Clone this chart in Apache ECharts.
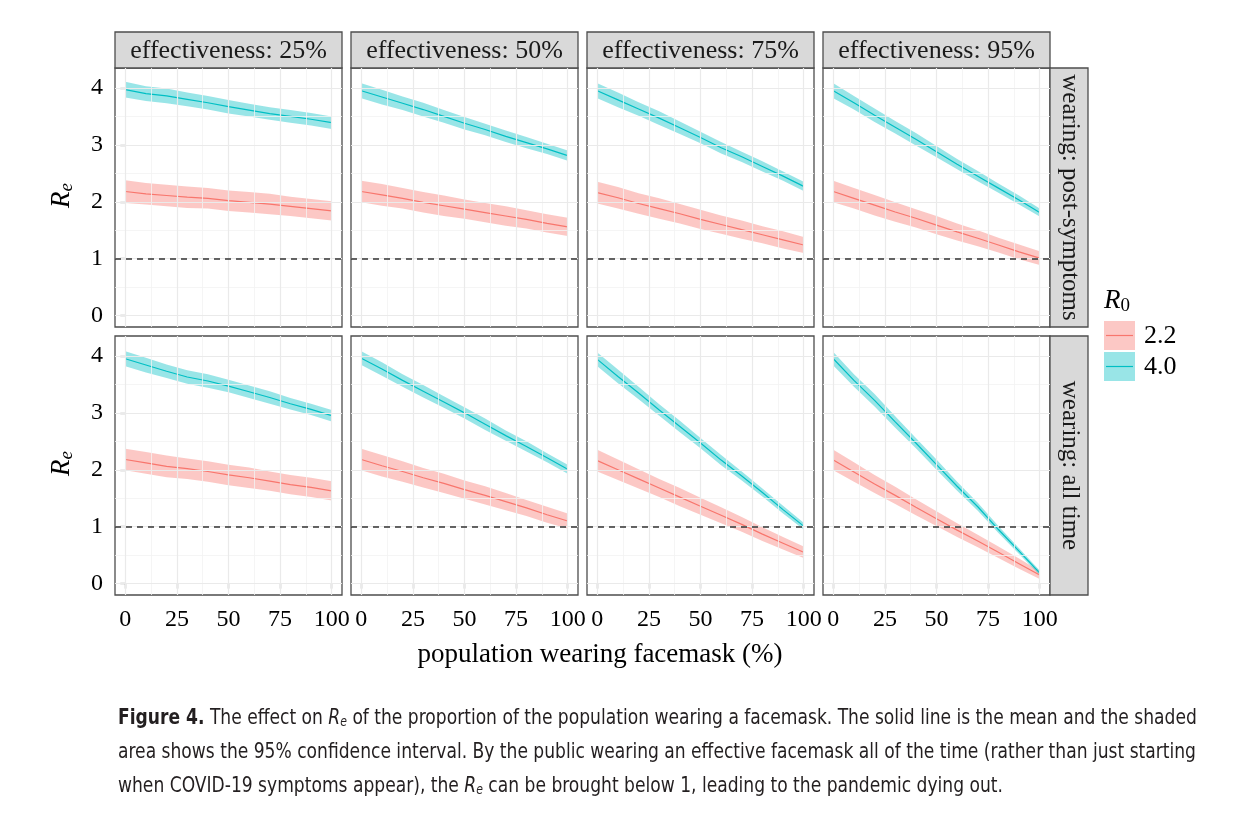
<!DOCTYPE html>
<html><head><meta charset="utf-8">
<script src="https://cdn.jsdelivr.net/npm/echarts@6/dist/echarts.min.js"></script>
<style>html,body{margin:0;padding:0;background:#fff}#c{width:1242px;height:828px}</style>
</head><body><div id="c"></div><script>
// ---------- data ----------
const pctWearing = [0, 10, 20, 30, 40, 50, 60, 70, 80, 90, 100];
const effectivenessLabels = ['effectiveness: 25%', 'effectiveness: 50%', 'effectiveness: 75%', 'effectiveness: 95%'];
const wearingLabels = ['wearing: post-symptoms', 'wearing: all time'];
const r0Labels = ['2.2', '4.0'];
const xTicks = [0, 25, 50, 75, 100];
const yTicks = [0, 1, 2, 3, 4];
const xMinor = [12.5, 37.5, 62.5, 87.5];
const yMinor = [0.5, 1.5, 2.5, 3.5];
const threshold = 1;

// wearing: post-symptoms
const post25_r22 = [2.18, 2.14, 2.11, 2.08, 2.06, 2.02, 1.99, 1.96, 1.92, 1.88, 1.84];
const post25_r22_ci = [0.20, 0.19, 0.19, 0.19, 0.18, 0.18, 0.18, 0.18, 0.17, 0.17, 0.17];
const post25_r40 = [3.97, 3.90, 3.86, 3.80, 3.74, 3.67, 3.61, 3.55, 3.50, 3.45, 3.39];
const post25_r40_ci = [0.14, 0.13, 0.13, 0.12, 0.12, 0.12, 0.11, 0.11, 0.11, 0.11, 0.11];
const post50_r22 = [2.18, 2.12, 2.06, 1.99, 1.93, 1.87, 1.81, 1.75, 1.69, 1.62, 1.56];
const post50_r22_ci = [0.19, 0.19, 0.18, 0.18, 0.18, 0.17, 0.17, 0.17, 0.16, 0.16, 0.16];
const post50_r40 = [3.95, 3.84, 3.73, 3.62, 3.50, 3.38, 3.27, 3.15, 3.04, 2.93, 2.81];
const post50_r40_ci = [0.13, 0.13, 0.12, 0.12, 0.11, 0.11, 0.10, 0.10, 0.10, 0.09, 0.09];
const post75_r22 = [2.16, 2.07, 1.97, 1.88, 1.79, 1.69, 1.60, 1.51, 1.42, 1.33, 1.24];
const post75_r22_ci = [0.19, 0.19, 0.18, 0.18, 0.17, 0.17, 0.16, 0.16, 0.15, 0.15, 0.14];
const post75_r40 = [3.95, 3.79, 3.63, 3.47, 3.30, 3.13, 2.95, 2.79, 2.62, 2.45, 2.27];
const post75_r40_ci = [0.13, 0.13, 0.12, 0.12, 0.11, 0.10, 0.10, 0.09, 0.09, 0.08, 0.08];
const post95_r22 = [2.18, 2.06, 1.94, 1.82, 1.71, 1.59, 1.47, 1.36, 1.24, 1.12, 1.01];
const post95_r22_ci = [0.19, 0.18, 0.18, 0.17, 0.16, 0.16, 0.15, 0.14, 0.13, 0.13, 0.12];
const post95_r40 = [3.95, 3.74, 3.52, 3.31, 3.10, 2.88, 2.66, 2.45, 2.24, 2.03, 1.81];
const post95_r40_ci = [0.13, 0.12, 0.12, 0.11, 0.11, 0.10, 0.09, 0.09, 0.08, 0.08, 0.07];
// wearing: all time
const all25_r22 = [2.18, 2.12, 2.06, 2.02, 1.97, 1.91, 1.86, 1.80, 1.74, 1.69, 1.63];
const all25_r22_ci = [0.19, 0.19, 0.19, 0.18, 0.18, 0.18, 0.18, 0.17, 0.17, 0.17, 0.17];
const all25_r40 = [3.95, 3.84, 3.73, 3.63, 3.56, 3.47, 3.37, 3.27, 3.16, 3.06, 2.95];
const all25_r40_ci = [0.13, 0.13, 0.12, 0.12, 0.12, 0.11, 0.11, 0.11, 0.10, 0.10, 0.10];
const all50_r22 = [2.18, 2.07, 1.97, 1.86, 1.76, 1.65, 1.55, 1.44, 1.33, 1.21, 1.10];
const all50_r22_ci = [0.19, 0.19, 0.18, 0.17, 0.17, 0.16, 0.16, 0.15, 0.14, 0.14, 0.13];
const all50_r40 = [3.96, 3.77, 3.57, 3.38, 3.19, 3.00, 2.80, 2.60, 2.41, 2.21, 2.01];
const all50_r40_ci = [0.12, 0.12, 0.11, 0.11, 0.10, 0.10, 0.10, 0.09, 0.09, 0.08, 0.08];
const all75_r22 = [2.16, 2.00, 1.84, 1.68, 1.52, 1.36, 1.20, 1.04, 0.87, 0.71, 0.55];
const all75_r22_ci = [0.19, 0.18, 0.17, 0.16, 0.16, 0.15, 0.14, 0.13, 0.12, 0.11, 0.10];
const all75_r40 = [3.94, 3.64, 3.35, 3.05, 2.76, 2.47, 2.17, 1.89, 1.60, 1.30, 1.01];
const all75_r40_ci = [0.12, 0.12, 0.11, 0.10, 0.10, 0.09, 0.09, 0.08, 0.07, 0.07, 0.06];
const all95_r22 = [2.17, 1.96, 1.75, 1.55, 1.34, 1.14, 0.94, 0.75, 0.55, 0.35, 0.15];
const all95_r22_ci = [0.18, 0.17, 0.16, 0.15, 0.14, 0.13, 0.12, 0.11, 0.10, 0.09, 0.07];
const all95_r40 = [3.95, 3.57, 3.22, 2.84, 2.47, 2.09, 1.71, 1.35, 0.95, 0.57, 0.19];
const all95_r40_ci = [0.12, 0.11, 0.11, 0.10, 0.09, 0.09, 0.08, 0.07, 0.06, 0.05, 0.04];

const panels = [
  [post25_r22, post25_r22_ci, post25_r40, post25_r40_ci],
  [post50_r22, post50_r22_ci, post50_r40, post50_r40_ci],
  [post75_r22, post75_r22_ci, post75_r40, post75_r40_ci],
  [post95_r22, post95_r22_ci, post95_r40, post95_r40_ci],
  [all25_r22, all25_r22_ci, all25_r40, all25_r40_ci],
  [all50_r22, all50_r22_ci, all50_r40, all50_r40_ci],
  [all75_r22, all75_r22_ci, all75_r40, all75_r40_ci],
  [all95_r22, all95_r22_ci, all95_r40, all95_r40_ci]
];

// ---------- layout / style ----------
const colLeft = [115, 351, 587, 823];
const rowTop = [68, 336];
const PW = 227, PH = 259;
const SERIF = '"Liberation Serif", "DejaVu Serif", serif';
const SANS = '"DejaVu Sans Condensed", "Liberation Sans", sans-serif';
const RED = '#F8766D', CYAN = '#00BFC4';
const RED_FILL = 'rgba(248,118,109,0.4)', CYAN_FILL = 'rgba(0,191,196,0.4)';
const BORDER = '#4d4d4d';

const grids = [], xAxes = [], yAxes = [], series = [];
panels.forEach((p, i) => {
  const r = Math.floor(i / 4), c = i % 4;
  grids.push({ left: colLeft[c], top: rowTop[r], width: PW, height: PH, show: true,
    borderColor: BORDER, borderWidth: 1.3, backgroundColor: '#fff', containLabel: false, outerBoundsMode: 'none' });
  xAxes.push({ gridIndex: i, type: 'value', min: -5, max: 105,
    splitLine: { show: false }, axisLine: { show: false },
    axisTick: { show: r === 1, customValues: xTicks, length: 5, lineStyle: { color: '#333', width: 1.2 } },
    axisLabel: { show: r === 1, customValues: xTicks, fontFamily: SERIF, fontSize: 24, color: '#000', margin: 13 } });
  yAxes.push({ gridIndex: i, type: 'value', min: -0.2, max: 4.35,
    splitLine: { show: false }, axisLine: { show: false },
    axisTick: { show: c === 0, customValues: yTicks, length: 5, lineStyle: { color: '#333', width: 1.2 } },
    axisLabel: { show: c === 0, customValues: yTicks, fontFamily: SERIF, fontSize: 24, color: '#000', margin: 12 } });

  const gl = [];
  xMinor.forEach(v => gl.push({ xAxis: v, lineStyle: { color: '#F3F3F3', width: 0.8, type: 'solid' } }));
  yMinor.forEach(v => gl.push({ yAxis: v, lineStyle: { color: '#F3F3F3', width: 0.8, type: 'solid' } }));
  xTicks.forEach(v => gl.push({ xAxis: v, lineStyle: { color: '#EAEAEA', width: 1.2, type: 'solid' } }));
  yTicks.forEach(v => gl.push({ yAxis: v, lineStyle: { color: '#EAEAEA', width: 1.2, type: 'solid' } }));
  series.push({ type: 'line', xAxisIndex: i, yAxisIndex: i, data: [], silent: true, z: 1,
    markLine: { silent: true, symbol: ['none', 'none'], label: { show: false }, animation: false, data: gl } });

  const [m22, ci22, m40, ci40] = p;
  [[m22, ci22, RED_FILL], [m40, ci40, CYAN_FILL]].forEach(([m, ci, fill]) => {
    series.push({ type: 'custom', xAxisIndex: i, yAxisIndex: i, z: 2, silent: true,
      data: [[pctWearing[0], m[0]]],
      renderItem: (params, api) => {
        const up = pctWearing.map((x, k) => api.coord([x, m[k] + ci[k]]));
        const dn = pctWearing.map((x, k) => api.coord([x, m[k] - ci[k]])).reverse();
        return { type: 'polygon', shape: { points: up.concat(dn) }, style: { fill: fill, stroke: null } };
      } });
  });
  series.push({ type: 'line', xAxisIndex: i, yAxisIndex: i, data: [], silent: true, z: 3,
    markLine: { silent: true, symbol: ['none', 'none'], label: { show: false }, animation: false,
      data: [{ yAxis: threshold, lineStyle: { color: '#333', width: 1.5, type: [6, 5] } }] } });
  series.push({ name: r0Labels[0], type: 'line', xAxisIndex: i, yAxisIndex: i, symbol: 'none', z: 4,
    lineStyle: { color: RED, width: 1.2 }, data: pctWearing.map((x, k) => [x, m22[k]]) });
  series.push({ name: r0Labels[1], type: 'line', xAxisIndex: i, yAxisIndex: i, symbol: 'none', z: 4,
    lineStyle: { color: CYAN, width: 1.2 }, data: pctWearing.map((x, k) => [x, m40[k]]) });
});

// ---------- graphics (strips, titles, legend, caption) ----------
const g = [];
effectivenessLabels.forEach((t, c) => {
  g.push({ type: 'rect', shape: { x: colLeft[c], y: 32, width: PW, height: 36 },
    style: { fill: '#D9D9D9', stroke: BORDER, lineWidth: 1.3 } });
  g.push({ type: 'text', x: colLeft[c] + PW / 2, y: 51,
    style: { text: t, fontFamily: SERIF, fontSize: 26, fill: '#1a1a1a', align: 'center', verticalAlign: 'middle' } });
});
wearingLabels.forEach((t, r) => {
  g.push({ type: 'rect', shape: { x: 1050, y: rowTop[r], width: 38, height: PH },
    style: { fill: '#D9D9D9', stroke: BORDER, lineWidth: 1.3 } });
  g.push({ type: 'text', x: 1070, y: rowTop[r] + PH / 2, rotation: -Math.PI / 2,
    style: { text: t, fontFamily: SERIF, fontSize: 25, fill: '#1a1a1a', align: 'center', verticalAlign: 'middle' } });
});
rowTop.forEach(top => {
  g.push({ type: 'text', x: 62, y: top + PH / 2 - 2, rotation: Math.PI / 2,
    style: { text: '{r|R}{s|e}', align: 'center', verticalAlign: 'middle', fill: '#000',
      rich: { r: { fontFamily: SERIF, fontStyle: 'italic', fontSize: 27, fill: '#000' },
              s: { fontFamily: SERIF, fontStyle: 'italic', fontSize: 19, fill: '#000', verticalAlign: 'bottom', padding: [10, 0, 0, 0] } } } });
});
g.push({ type: 'text', x: 600, y: 655,
  style: { text: 'population wearing facemask (%)', fontFamily: SERIF, fontSize: 27, fill: '#000', align: 'center', verticalAlign: 'middle' } });

// legend
g.push({ type: 'text', x: 1104, y: 301,
  style: { text: '{r|R}{s|0}', align: 'left', verticalAlign: 'middle',
    rich: { r: { fontFamily: SERIF, fontStyle: 'italic', fontSize: 27, fill: '#000' },
            s: { fontFamily: SERIF, fontSize: 19, fill: '#000', verticalAlign: 'bottom', padding: [10, 0, 0, 0] } } } });
[[RED_FILL, RED, 321], [CYAN_FILL, CYAN, 352]].forEach(([fill, col, y], k) => {
  g.push({ type: 'rect', shape: { x: 1104, y: y, width: 31, height: 29 }, style: { fill: fill } });
  g.push({ type: 'line', shape: { x1: 1106, y1: y + 14.5, x2: 1133, y2: y + 14.5 }, style: { stroke: col, lineWidth: 1.2 } });
  g.push({ type: 'text', x: 1144, y: y + 15,
    style: { text: r0Labels[k], fontFamily: SERIF, fontSize: 26, fill: '#000', align: 'left', verticalAlign: 'middle' } });
});

// caption
const capRich = {
  b: { fontFamily: SANS, fontWeight: 'bold', fontSize: 22, fill: '#231f20' },
  n: { fontFamily: SANS, fontSize: 22, fill: '#231f20' },
  i: { fontFamily: SANS, fontStyle: 'italic', fontSize: 22, fill: '#231f20' },
  s: { fontFamily: SANS, fontStyle: 'italic', fontSize: 14, fill: '#231f20', verticalAlign: 'bottom', padding: [8, 0, 0, 0] }
};
const captionLines = [
  '{b|Figure 4.}{n| The effect on }{i|R}{s|e}{n| of the proportion of the population wearing a facemask. The solid line is the mean and the shaded}',
  '{n|area shows the 95% confidence interval. By the public wearing an effective facemask all of the time (rather than just starting}',
  '{n|when COVID-19 symptoms appear), the }{i|R}{s|e}{n| can be brought below 1, leading to the pandemic dying out.}'
];
captionLines.forEach((t, k) => {
  g.push({ type: 'text', x: 118, y: 718 + 34 * k, scaleX: 0.865,
    style: { text: t, align: 'left', verticalAlign: 'middle', rich: capRich } });
});

const chart = echarts.init(document.getElementById('c'));
chart.setOption({
  animation: false,
  backgroundColor: '#fff',
  textStyle: { fontFamily: SERIF },
  grid: grids, xAxis: xAxes, yAxis: yAxes, series: series, graphic: g
});
</script></body></html>
